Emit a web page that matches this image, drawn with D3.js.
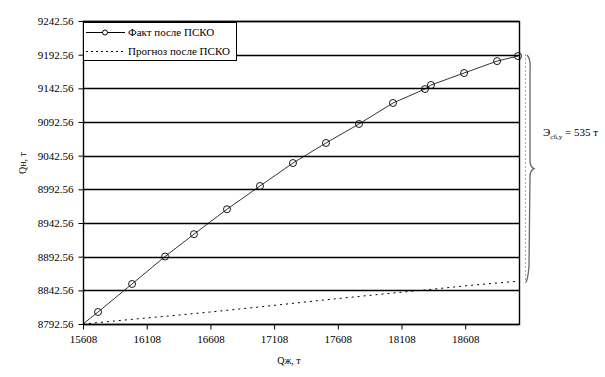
<!doctype html>
<head>
    <meta charset="UTF-8">
    <style>
        body { margin: 0; background: #fff; }
        svg text { font-family: "Liberation Serif", "Times New Roman", serif !important; fill: #000; }
    </style>
</head>
<body>
    <svg id="chart" width="605" height="377"></svg>
    <script src="https://d3js.org/d3.v7.min.js"></script>
    <script>

        // Fact after acid treatment (Qж, Qн)
        var factX = [15608, 15726, 15993, 16252, 16479, 16738, 16997, 17256, 17515, 17774, 18041, 18292, 18339, 18599, 18858, 19022];
        var factY = [8792.56, 8810.4, 8852, 8892.8, 8926, 8963, 8997.5, 9031.6, 9061.4, 9089.6, 9120.8, 9141.5, 9147.5, 9165.3, 9183, 9190.5];

        // Forecast after acid treatment
        var progX = [15608, 15993, 16479, 16997, 17515, 18041, 18339, 18599, 19022];
        var progY = [8792.56, 8799.5, 8808, 8818, 8828.5, 8838.5, 8844, 8849, 8856];

        var xTicks = [15608, 16108, 16608, 17108, 17608, 18108, 18608];
        var yTicks = [8792.56, 8842.56, 8892.56, 8942.56, 8992.56, 9042.56, 9092.56, 9142.56, 9192.56, 9242.56];

        var svg = d3.select("#chart");
        var m = { left: 83, right: 519, top: 21, bottom: 324 };

        var x = d3.scaleLinear().domain([15608, 19030]).range([m.left, m.right]);
        var y = d3.scaleLinear().domain([8792.56, 9242.56]).range([m.bottom, m.top]);

        // horizontal grid
        svg.append("g")
            .selectAll("line")
            .data(yTicks)
            .enter().append("line")
            .attr("x1", m.left).attr("x2", m.right)
            .attr("y1", function (d) { return Math.round(y(d)) + 0.5; })
            .attr("y2", function (d) { return Math.round(y(d)) + 0.5; })
            .style("stroke", "#000")
            .style("stroke-width", 1.4);

        // frame
        svg.append("rect")
            .attr("x", m.left + 0.5).attr("y", m.top + 0.5)
            .attr("width", m.right - m.left).attr("height", m.bottom - m.top)
            .style("fill", "none").style("stroke", "#000").style("stroke-width", 1.4);

        // axes
        var xAxis = svg.append("g")
            .attr("transform", "translate(0," + (m.bottom + 0.5) + ")")
            .call(d3.axisBottom(x).tickValues(xTicks).tickSize(5).tickPadding(6).tickFormat(d3.format("d")));
        var yAxis = svg.append("g")
            .attr("transform", "translate(" + (m.left + 0.5) + ",0)")
            .call(d3.axisLeft(y).tickValues(yTicks).tickSize(5).tickPadding(5).tickFormat(d3.format(".2f")));
        [xAxis, yAxis].forEach(function (a) {
            a.attr("font-family", null);
            a.select(".domain").remove();
            a.selectAll("line").style("stroke", "#000");
            a.selectAll("text").style("font-size", "11px");
        });

        var line = d3.line()
            .x(function (d) { return x(d[0]); })
            .y(function (d) { return y(d[1]); });

        var fact = d3.zip(factX, factY);
        var prog = d3.zip(progX, progY);

        svg.append("path")
            .datum(prog)
            .attr("d", line.curve(d3.curveMonotoneX))
            .style("fill", "none").style("stroke", "#000").style("stroke-width", 1)
            .style("stroke-dasharray", "2,4");

        svg.append("path")
            .datum(fact)
            .attr("d", line.curve(d3.curveLinear))
            .style("fill", "none").style("stroke", "#000").style("stroke-width", 0.8);

        svg.append("g")
            .selectAll("circle")
            .data(fact.slice(1))
            .enter().append("circle")
            .attr("cx", function (d) { return x(d[0]); })
            .attr("cy", function (d) { return y(d[1]); })
            .attr("r", 3.5)
            .style("fill", "none").style("stroke", "#000").style("stroke-width", 0.9);

        // legend
        var lg = svg.append("g");
        lg.append("rect")
            .attr("x", 83.5).attr("y", 22.5).attr("width", 153).attr("height", 38)
            .style("fill", "#fff").style("stroke", "#000");
        lg.append("line").attr("x1", 86).attr("x2", 125).attr("y1", 32.5).attr("y2", 32.5)
            .style("stroke", "#000");
        lg.append("circle").attr("cx", 105).attr("cy", 32.5).attr("r", 2.5)
            .style("fill", "#fff").style("stroke", "#000");
        lg.append("text").attr("x", 128).attr("y", 36).style("font-size", "11px").text("Факт после ПСКО");
        lg.append("line").attr("x1", 86).attr("x2", 125).attr("y1", 51.5).attr("y2", 51.5)
            .style("stroke", "#000").style("stroke-dasharray", "2,3");
        lg.append("text").attr("x", 128).attr("y", 55).style("font-size", "11px").text("Прогноз после ПСКО");

        // axis titles
        svg.append("text")
            .attr("transform", "translate(26,163) rotate(-90)")
            .attr("text-anchor", "middle")
            .style("font-size", "10px")
            .text("Qн, т");
        svg.append("text")
            .attr("x", 289).attr("y", 364)
            .attr("text-anchor", "middle")
            .style("font-size", "10px")
            .text("Qж, т");

        // brace for the difference at the end
        var yTop = y(factY[factY.length - 1]), yBot = y(progY[progY.length - 1]);
        var yMid = (yTop + yBot) / 2;
        svg.append("line")
            .attr("x1", 525.5).attr("x2", 525.5).attr("y1", yTop - 2).attr("y2", yBot + 2)
            .style("stroke", "#aaa").style("stroke-dasharray", "2,2");
        svg.append("path")
            .attr("d", "M527," + (yTop - 1) + " Q531," + (yTop + 3) + " 530," + (yTop + 15) +
                " L530," + (yMid - 8) + " Q530," + (yMid - 2) + " 534," + yMid +
                " Q530," + (yMid + 2) + " 530," + (yMid + 8) +
                " L529," + (yBot - 15) + " Q528," + (yBot - 3) + " 526," + (yBot + 1))
            .style("fill", "none").style("stroke", "#666").style("stroke-width", 1.3);

        var lab = svg.append("text").attr("x", 543).attr("y", 136).style("font-size", "11px");
        lab.append("tspan").text("Э");
        lab.append("tspan").attr("dy", 3).style("font-size", "7px").text("сб,у");
        lab.append("tspan").attr("dy", -3).text(" = 535 т");

    </script>
</body>
